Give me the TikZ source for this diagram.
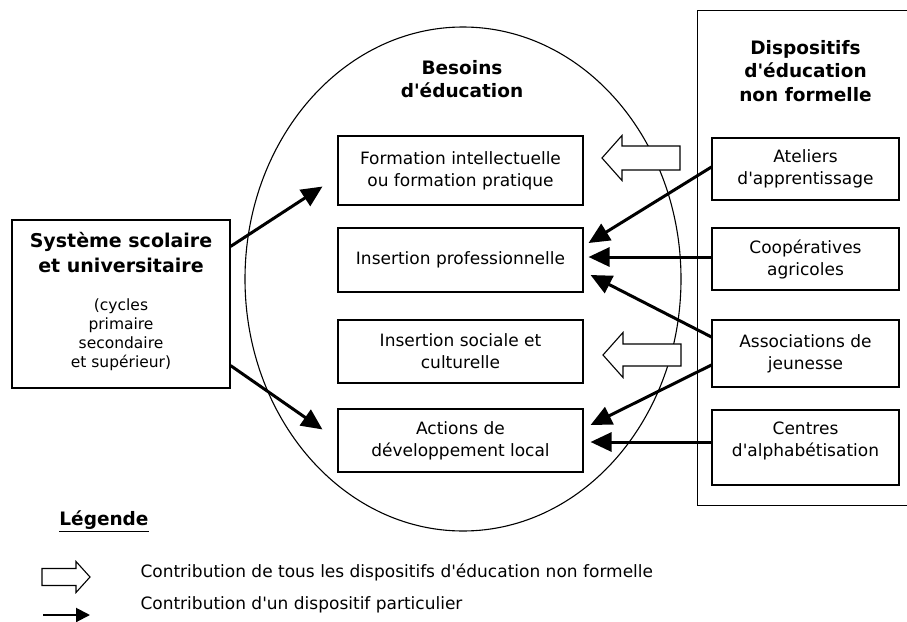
\documentclass[tikz,border=0pt]{standalone}
\usepackage{fontspec}
\setmainfont{DejaVu Sans}[Ligatures=TeXOff]
\usetikzlibrary{arrows.meta,shapes.geometric}
\tikzset{
  pics/harrow/.style args={#1/#2/#3/#4}{code={
    \draw[hollow] (0,0) -- (#2,#3) -- (#2,#4) -- (#1,#4) -- (#1,-#4) -- (#2,-#4) -- (#2,-#3) -- cycle;}}
}
\begin{document}
\begin{tikzpicture}[x=1pt,y=-1pt,
  box/.style={draw,line width=1.1pt,minimum width=245pt,align=center,inner sep=0pt,font=\fontsize{17}{22}\selectfont},
  rbox/.style={box,minimum width=187pt},
  title/.style={align=center,font=\fontsize{18.5}{23.5}\selectfont\bfseries},
  contrib/.style={line width=3pt,-{Triangle[length=21pt,width=19pt]}},
  hollow/.style={draw,line width=1.1pt,fill=white,line join=miter},
  legtext/.style={anchor=west,font=\fontsize{17}{20}\selectfont}
]
\clip (0,0) rectangle (907,621);
\fill[white] (0,0) rectangle (907,621);
% ellipse of needs
\node[draw,line width=1.1pt,ellipse,minimum width=436pt,minimum height=504pt,inner sep=0pt] (bes) at (463,279) {};
\node[title] (bestitle) at (462,79) {Besoins\\d'éducation};
% needs boxes
\node[box,minimum height=69pt] (form) at (460.5,170.5) {Formation intellectuelle\\ou formation pratique};
\node[box,minimum height=64pt] (ip) at (460.5,260) {Insertion professionnelle};
\node[box,minimum height=63pt] (isc) at (460.5,351.5) {Insertion sociale et\\culturelle};
\node[box,minimum height=63pt] (act) at (460.5,440.5) {Actions de\\développement local};
% school system
\node[draw,line width=1.1pt,minimum width=218pt,minimum height=168pt,inner sep=0pt] (sys) at (121,304) {};
\node[title,font=\fontsize{19}{25}\selectfont\bfseries] (systitle) at (121,252.5) {Système scolaire\\et universitaire};
\node[align=center,font=\fontsize{15.5}{19}\selectfont] (cycles) at (121,334.5) {(cycles\\primaire\\secondaire\\et supérieur)};
% non formal devices
\node[draw,line width=1.1pt,minimum width=230pt,minimum height=495.5pt,inner sep=0pt,anchor=north west] (dev) at (697,9.5) {};
\node[title] (devtitle) at (805.5,71) {Dispositifs\\d'éducation\\non formelle};
\node[rbox,minimum height=62pt] (atel) at (805.5,169) {Ateliers\\d'apprentissage};
\node[rbox,minimum height=62pt] (coop) at (805.5,259) {Coopératives\\agricoles};
\node[rbox,minimum height=67pt] (assoc) at (805.5,353.5) {Associations de\\jeunesse};
\node[rbox,minimum height=75pt] (cent) at (805.5,447.5) {Centres\\d'alphabétisation\rule[-16pt]{0pt}{16pt}};
% hollow arrows (all devices)
\pic at (602,158) {harrow=78/20/22.5/12};
\pic at (603,355) {harrow=78/20/22.5/11};
% particular contributions
\draw[contrib] ([yshift=-27pt]sys.north east) -- ([xshift=-15pt,yshift=19pt]form.south west);
\draw[contrib] ([yshift=23pt]sys.south east) -- ([xshift=-15pt,yshift=-21pt]act.north west);
\draw[contrib] ([yshift=2pt]atel.west) -- ([xshift=5pt,yshift=17pt]ip.east);
\draw[contrib] ([yshift=2pt]coop.west) -- ([xshift=5pt,yshift=3pt]ip.east);
\draw[contrib] ([yshift=16.5pt]assoc.west) -- ([xshift=7pt,yshift=-15pt]ip.east);
\draw[contrib] ([yshift=-11.5pt]assoc.west) -- ([xshift=7pt,yshift=15.5pt]act.east);
\draw[contrib] ([yshift=5.5pt]cent.west) -- ([xshift=7pt,yshift=-1.5pt]act.east);
% legend
\node[font=\fontsize{18.5}{20}\selectfont\bfseries] (leg) at (104,521) {\underline{Légende}};
\pic at (90,577) {harrow=-48/-14/15.5/8.5};
\coordinate (la1) at (43,615);
\coordinate (la2) at (90,615);
\draw[line width=2pt,-{Triangle[length=14pt,width=14pt]}] (la1) -- (la2);
\node[legtext] (lt1) at (137,572) {Contribution de tous les dispositifs d'éducation non formelle};
\node[legtext] (lt2) at (137,605) {Contribution d'un dispositif particulier};
\end{tikzpicture}
\end{document}
